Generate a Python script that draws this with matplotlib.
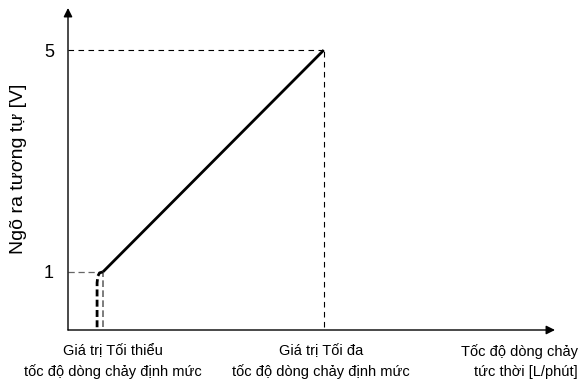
import matplotlib
matplotlib.use("Agg")
import matplotlib.pyplot as plt
import matplotlib.transforms as mtransforms

# dữ liệu
flow_min = 1.0
flow_max = 7.3
out_min = 1
out_max = 5
y_ticks = [1, 5]
y_tick_labels = ["1", "5"]
# đoạn nét đứt đậm dưới giá trị tối thiểu
start_x = [0.83, 0.83, 0.85, 0.90, 1.0]
start_y = [0.0, 0.80, 0.92, 0.98, 1.0]
x_labels = ["Giá trị Tối thiểu\ntốc độ dòng chảy định mức",
            "Giá trị Tối đa\ntốc độ dòng chảy định mức",
            "Tốc độ dòng chảy\ntức thời [L/phút]"]
x_label_pos = [1.29, 7.23, 14.55]
x_label_ha = ["center", "center", "right"]
y_label = "Ngõ ra tương tự [V]"

font = ["Liberation Sans", "DejaVu Sans"]

fig = plt.figure(figsize=(5.8, 3.87), dpi=100)
ax = fig.add_axes([68 / 580, 57 / 387, 487 / 580, 322 / 387])
ax.set_xlim(0, 13.9)
ax.set_ylim(-0.05, 5.76)
for s in ax.spines.values():
    s.set_visible(False)

# trục có mũi tên
arrow = dict(arrowstyle="-|>", color="black", lw=1.0, mutation_scale=13,
             shrinkA=0, shrinkB=0)
ax.annotate("", xy=(1, 0), xytext=(0, 0), xycoords="axes fraction",
            textcoords="axes fraction", arrowprops=arrow)
ax.annotate("", xy=(0, 1), xytext=(0, 0), xycoords="axes fraction",
            textcoords="axes fraction", arrowprops=arrow)

# đường chuẩn
ax.plot([0, flow_max], [out_max, out_max], color="black", lw=0.8,
        ls=(0, (5, 4)))
ax.plot([flow_max, flow_max], [0, out_max], color="black", lw=0.8,
        ls=(0, (5, 4)))
ax.plot([0, flow_min], [out_min, out_min], color="#666666", lw=0.9,
        ls=(0, (5, 3)))
ax.plot([flow_min, flow_min], [0, out_min], color="#666666", lw=1.2,
        ls=(0, (4, 2)))

# đặc tuyến
ax.plot([flow_min, flow_max], [out_min, out_max], color="black", lw=2.0,
        solid_capstyle="butt")
ax.plot(start_x, start_y, color="black", lw=2.0, ls=(0, (2.5, 1.2)))

ax.set_xticks([])
ax.set_yticks(y_ticks)
ax.set_yticklabels(y_tick_labels, family=font, fontsize=13)
ax.tick_params(axis="y", length=0, pad=10)

ax.set_ylabel(y_label, family=font, fontsize=14, labelpad=12)

trans = mtransforms.blended_transform_factory(ax.transData, ax.transAxes)
for lbl, xp, ha in zip(x_labels, x_label_pos, x_label_ha):
    ax.text(xp, -0.045, lbl, transform=trans, ha=ha, va="top",
            multialignment=ha, family=font, fontsize=10.5, linespacing=1.5)

fig.savefig("out.png", dpi=100)
